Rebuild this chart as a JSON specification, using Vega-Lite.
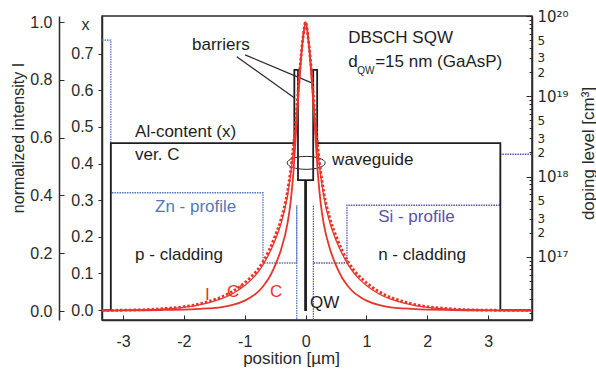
{
  "$schema": "https://vega.github.io/schema/vega-lite/v6.json",
  "width": 430,
  "height": 304,
  "autosize": {"type": "none"},
  "padding": {"left": 102, "top": 16, "right": 64, "bottom": 49},
  "background": "white",
  "config": {
    "font": "Liberation Sans",
    "view": {"stroke": "#2a2a2a", "strokeWidth": 1.5},
    "axis": {"grid": false, "labelFontSize": 16, "titleFontSize": 17, "labelColor": "#2a2a2a", "titleColor": "#2a2a2a", "titleFontWeight": "normal", "domainColor": "#2a2a2a", "tickColor": "#2a2a2a", "domainWidth": 1.5, "labelFont": "Liberation Sans", "titleFont": "Liberation Sans", "labelFlush": false, "labelOverlap": false},
    "text": {"font": "Liberation Sans", "fontSize": 17, "align": "left", "baseline": "alphabetic", "color": "#1e1e1e"}
  },
  "datasets": {
    "al": [
      {"i": 0, "x": -3.345, "al": 0}, {"i": 1, "x": -3.2, "al": 0}, {"i": 2, "x": -3.2, "al": 0.456},
      {"i": 3, "x": -0.185, "al": 0.456}, {"i": 4, "x": -0.185, "al": 0.656}, {"i": 5, "x": -0.125, "al": 0.656},
      {"i": 6, "x": -0.125, "al": 0.355}, {"i": 7, "x": -0.008, "al": 0.355}, {"i": 8, "x": -0.008, "al": 0},
      {"i": 9, "x": 0.008, "al": 0}, {"i": 10, "x": 0.008, "al": 0.355}, {"i": 11, "x": 0.125, "al": 0.355},
      {"i": 12, "x": 0.125, "al": 0.656}, {"i": 13, "x": 0.19, "al": 0.656}, {"i": 14, "x": 0.19, "al": 0.456},
      {"i": 15, "x": 3.2, "al": 0.456}, {"i": 16, "x": 3.2, "al": 0}, {"i": 17, "x": 3.72, "al": 0}
    ],
    "zn": [
      {"i": 0, "x": -3.345, "d": 5e19}, {"i": 1, "x": -3.2, "d": 5e19}, {"i": 2, "x": -3.2, "d": 6.3e17},
      {"i": 3, "x": -0.70, "d": 6.3e17}, {"i": 4, "x": -0.70, "d": 8.4e16}, {"i": 5, "x": -0.145, "d": 8.4e16},
      {"i": 6, "x": -0.145, "d": 4.4e17}, {"i": 7, "x": -0.145, "d": 1e16}
    ],
    "si": [
      {"i": 0, "x": 0.128, "d": 1e16}, {"i": 1, "x": 0.128, "d": 4.4e17}, {"i": 2, "x": 0.128, "d": 8.4e16},
      {"i": 3, "x": 0.68, "d": 8.4e16}, {"i": 4, "x": 0.68, "d": 4.4e17}, {"i": 5, "x": 3.2, "d": 4.4e17},
      {"i": 6, "x": 3.2, "d": 1.9e18}, {"i": 7, "x": 3.72, "d": 1.9e18}
    ],
    "C": [
      {"x": -3.345, "v": 0.0015}, {"x": -3.0, "v": 0.002}, {"x": -2.6, "v": 0.0028}, {"x": -2.3, "v": 0.0037},
      {"x": -2.0, "v": 0.005}, {"x": -1.8, "v": 0.0065}, {"x": -1.6, "v": 0.009}, {"x": -1.4, "v": 0.013},
      {"x": -1.2, "v": 0.021}, {"x": -1.0, "v": 0.036}, {"x": -0.9, "v": 0.048}, {"x": -0.8, "v": 0.063},
      {"x": -0.7, "v": 0.085}, {"x": -0.6, "v": 0.115}, {"x": -0.5, "v": 0.158}, {"x": -0.4, "v": 0.215},
      {"x": -0.3, "v": 0.30}, {"x": -0.25, "v": 0.37}, {"x": -0.2, "v": 0.48}, {"x": -0.16, "v": 0.61},
      {"x": -0.12, "v": 0.74}, {"x": -0.08, "v": 0.86}, {"x": -0.04, "v": 0.95}, {"x": 0, "v": 1.0},
      {"x": 0.04, "v": 0.95}, {"x": 0.08, "v": 0.86}, {"x": 0.12, "v": 0.74}, {"x": 0.16, "v": 0.61},
      {"x": 0.2, "v": 0.48}, {"x": 0.25, "v": 0.37}, {"x": 0.3, "v": 0.30}, {"x": 0.4, "v": 0.215},
      {"x": 0.5, "v": 0.158}, {"x": 0.6, "v": 0.115}, {"x": 0.7, "v": 0.085}, {"x": 0.8, "v": 0.063},
      {"x": 0.9, "v": 0.048}, {"x": 1.0, "v": 0.036}, {"x": 1.2, "v": 0.021}, {"x": 1.4, "v": 0.013},
      {"x": 1.6, "v": 0.009}, {"x": 1.8, "v": 0.0065}, {"x": 2.0, "v": 0.005}, {"x": 2.3, "v": 0.0037},
      {"x": 2.6, "v": 0.0028}, {"x": 3.0, "v": 0.002}, {"x": 3.72, "v": 0.0015}
    ],
    "Cp": [
      {"x": -3.345, "v": 0.002}, {"x": -3.0, "v": 0.003}, {"x": -2.6, "v": 0.005}, {"x": -2.3, "v": 0.009},
      {"x": -2.0, "v": 0.015}, {"x": -1.8, "v": 0.022}, {"x": -1.6, "v": 0.033}, {"x": -1.4, "v": 0.047},
      {"x": -1.2, "v": 0.068}, {"x": -1.0, "v": 0.098}, {"x": -0.9, "v": 0.117}, {"x": -0.8, "v": 0.14},
      {"x": -0.7, "v": 0.17}, {"x": -0.6, "v": 0.21}, {"x": -0.5, "v": 0.26}, {"x": -0.4, "v": 0.32},
      {"x": -0.3, "v": 0.41}, {"x": -0.25, "v": 0.48}, {"x": -0.2, "v": 0.57}, {"x": -0.16, "v": 0.66},
      {"x": -0.12, "v": 0.77}, {"x": -0.08, "v": 0.87}, {"x": -0.04, "v": 0.95}, {"x": 0, "v": 1.0},
      {"x": 0.04, "v": 0.95}, {"x": 0.08, "v": 0.87}, {"x": 0.12, "v": 0.77}, {"x": 0.16, "v": 0.66},
      {"x": 0.2, "v": 0.57}, {"x": 0.25, "v": 0.48}, {"x": 0.3, "v": 0.41}, {"x": 0.4, "v": 0.32},
      {"x": 0.5, "v": 0.26}, {"x": 0.6, "v": 0.21}, {"x": 0.7, "v": 0.17}, {"x": 0.8, "v": 0.14},
      {"x": 0.9, "v": 0.117}, {"x": 1.0, "v": 0.098}, {"x": 1.2, "v": 0.068}, {"x": 1.4, "v": 0.047},
      {"x": 1.6, "v": 0.033}, {"x": 1.8, "v": 0.022}, {"x": 2.0, "v": 0.015}, {"x": 2.3, "v": 0.009},
      {"x": 2.6, "v": 0.005}, {"x": 3.0, "v": 0.003}, {"x": 3.72, "v": 0.002}
    ],
    "I": [
      {"x": -3.345, "v": 0.0015}, {"x": -3.0, "v": 0.0025}, {"x": -2.6, "v": 0.0045}, {"x": -2.3, "v": 0.0075},
      {"x": -2.0, "v": 0.013}, {"x": -1.8, "v": 0.019}, {"x": -1.6, "v": 0.028}, {"x": -1.4, "v": 0.041},
      {"x": -1.2, "v": 0.06}, {"x": -1.0, "v": 0.088}, {"x": -0.9, "v": 0.107}, {"x": -0.8, "v": 0.13},
      {"x": -0.7, "v": 0.16}, {"x": -0.6, "v": 0.198}, {"x": -0.5, "v": 0.245}, {"x": -0.4, "v": 0.305},
      {"x": -0.3, "v": 0.395}, {"x": -0.25, "v": 0.465}, {"x": -0.2, "v": 0.555}, {"x": -0.16, "v": 0.65},
      {"x": -0.12, "v": 0.76}, {"x": -0.08, "v": 0.865}, {"x": -0.04, "v": 0.95}, {"x": 0, "v": 1.0},
      {"x": 0.04, "v": 0.95}, {"x": 0.08, "v": 0.865}, {"x": 0.12, "v": 0.76}, {"x": 0.16, "v": 0.65},
      {"x": 0.2, "v": 0.555}, {"x": 0.25, "v": 0.465}, {"x": 0.3, "v": 0.395}, {"x": 0.4, "v": 0.305},
      {"x": 0.5, "v": 0.245}, {"x": 0.6, "v": 0.198}, {"x": 0.7, "v": 0.16}, {"x": 0.8, "v": 0.13},
      {"x": 0.9, "v": 0.107}, {"x": 1.0, "v": 0.088}, {"x": 1.2, "v": 0.06}, {"x": 1.4, "v": 0.041},
      {"x": 1.6, "v": 0.028}, {"x": 1.8, "v": 0.019}, {"x": 2.0, "v": 0.013}, {"x": 2.3, "v": 0.0075},
      {"x": 2.6, "v": 0.0045}, {"x": 3.0, "v": 0.0025}, {"x": 3.72, "v": 0.0015}
    ]
  },
  "resolve": {"scale": {"y": "independent"}},
  "layer": [
    {
      "layer": [
        {
          "data": {"name": "zn"},
          "mark": {"type": "line", "clip": true, "color": "#4f72c2", "strokeWidth": 1.3, "strokeDash": [1.5, 1]},
          "encoding": {
            "x": {"field": "x", "type": "quantitative", "scale": {"domain": [-3.345, 3.72], "nice": false, "zero": false},
              "axis": {"values": [-3, -2.5, -2, -1.5, -1, -0.5, 0, 0.5, 1, 1.5, 2, 2.5, 3, 3.5],
                "labelExpr": "datum.value % 1 == 0 ? (datum.value < 0 ? '-' + abs(datum.value) : '' + datum.value) : ''",
                "tickSize": {"condition": {"test": "datum.value % 1 == 0", "value": -5}, "value": -3},
                "labelPadding": 18, "title": "position [µm]", "titleX": 189, "titleY": 43, "titleBaseline": "alphabetic"}},
            "y": {"field": "d", "type": "quantitative", "scale": {"type": "log", "domain": [1.64e16, 1e20], "nice": false},
              "axis": {"orient": "right",
                "values": [2e16, 3e16, 4e16, 5e16, 6e16, 7e16, 8e16, 9e16, 1e17, 2e17, 3e17, 4e17, 5e17, 6e17, 7e17, 8e17, 9e17, 1e18, 2e18, 3e18, 4e18, 5e18, 6e18, 7e18, 8e18, 9e18, 1e19, 2e19, 3e19, 4e19, 5e19, 6e19, 7e19, 8e19, 9e19, 1e20],
                "labelExpr": "abs(log(datum.value)/LN10 - round(log(datum.value)/LN10)) < 0.001 ? (round(log(datum.value)/LN10) == 20 ? '10²⁰' : round(log(datum.value)/LN10) == 19 ? '10¹⁹' : round(log(datum.value)/LN10) == 18 ? '10¹⁸' : round(log(datum.value)/LN10) == 17 ? '10¹⁷' : '') : ((datum.value > 1e17 && indexof([2, 3, 5], round(datum.value / pow(10, floor(log(datum.value)/LN10 + 0.001)))) >= 0) ? '' + round(datum.value / pow(10, floor(log(datum.value)/LN10 + 0.001))) : '')",
                "tickSize": {"condition": {"test": "abs(log(datum.value)/LN10 - round(log(datum.value)/LN10)) < 0.001", "value": -6}, "value": -3},
                "labelPadding": {"condition": {"test": "abs(log(datum.value)/LN10 - round(log(datum.value)/LN10)) < 0.001", "value": 11}, "value": 8},
                "labelFontSize": {"condition": {"test": "abs(log(datum.value)/LN10 - round(log(datum.value)/LN10)) < 0.001", "value": 15}, "value": 12},
                "labelFont": "DejaVu Sans",
                "labelBaseline": "middle",
                "title": "doping level [cm³]", "titleAngle": -90, "titleX": 56, "titleY": 137, "titleBaseline": "middle", "titleAlign": "center"}},
            "order": {"field": "i", "type": "quantitative"}
          }
        },
        {
          "data": {"name": "si"},
          "mark": {"type": "line", "clip": true, "color": "#5a50b0", "strokeWidth": 1.3, "strokeDash": [1.5, 1]},
          "encoding": {
            "x": {"field": "x", "type": "quantitative"},
            "y": {"field": "d", "type": "quantitative", "scale": {"type": "log"}},
            "order": {"field": "i", "type": "quantitative"}
          }
        }
      ]
    },
    {
      "layer": [
        {
          "data": {"name": "al"},
          "mark": {"type": "line", "color": "#1e1e1e", "strokeWidth": 1.8, "clip": true},
          "encoding": {
            "x": {"field": "x", "type": "quantitative"},
            "y": {"field": "al", "type": "quantitative", "scale": {"domain": [-0.027, 0.803], "nice": false, "zero": false},
              "axis": {"orient": "left",
                "values": [0, 0.05, 0.1, 0.15, 0.2, 0.25, 0.3, 0.35, 0.4, 0.45, 0.5, 0.55, 0.6, 0.65, 0.7, 0.75],
                "labelExpr": "round(datum.value*20) % 2 == 0 ? format(datum.value, '.1f') : ''",
                "tickSize": 4, "labelPadding": 5, "labelBaseline": "middle",
                "title": "x", "titleAngle": 0, "titleX": -17, "titleY": 8, "titleBaseline": "middle", "titleAlign": "center", "titleFontSize": 16}},
            "order": {"field": "i", "type": "quantitative"}
          }
        },
        {
          "data": {"values": [
            {"x": -1.131, "al": 0.692, "x2": -0.17, "al2": 0.578},
            {"x": -0.995, "al": 0.697, "x2": 0.12, "al2": 0.619}
          ]},
          "mark": {"type": "rule", "color": "#2a2a2a", "strokeWidth": 1.2},
          "encoding": {
            "x": {"field": "x", "type": "quantitative"},
            "y": {"field": "al", "type": "quantitative"},
            "x2": {"field": "x2"},
            "y2": {"field": "al2"}
          }
        },
        {
          "data": {"values": [{"x": 0.01, "al": 0.402}]},
          "mark": {"type": "point", "shape": "M-1,0A1,0.34,0,1,0,1,0A1,0.34,0,1,0,-1,0Z", "size": 1444, "filled": false, "stroke": "#2a2a2a", "strokeWidth": 1, "opacity": 1},
          "encoding": {
            "x": {"field": "x", "type": "quantitative"},
            "y": {"field": "al", "type": "quantitative"}
          }
        },
        {
          "data": {"values": [
            {"x": -1.866, "al": 0.710, "t": "barriers"},
            {"x": 0.699, "al": 0.7295, "t": "DBSCH  SQW"},
            {"x": 0.699, "al": 0.664, "t": "d"},
            {"x": 1.143, "al": 0.664, "t": "=15 nm (GaAsP)"},
            {"x": -2.801, "al": 0.4727, "t": "Al-content (x)"},
            {"x": -2.801, "al": 0.4098, "t": "ver. C"},
            {"x": 0.436, "al": 0.396, "t": "waveguide"},
            {"x": -2.801, "al": 0.1366, "t": "p - cladding"},
            {"x": 1.192, "al": 0.1366, "t": "n - cladding"},
            {"x": 0.074, "al": 0.006, "t": "QW"}
          ]},
          "mark": {"type": "text"},
          "encoding": {
            "x": {"field": "x", "type": "quantitative"},
            "y": {"field": "al", "type": "quantitative"},
            "text": {"field": "t"}
          }
        },
        {
          "data": {"values": [{"x": 0.847, "al": 0.645, "t": "QW"}]},
          "mark": {"type": "text", "fontSize": 10},
          "encoding": {
            "x": {"field": "x", "type": "quantitative"},
            "y": {"field": "al", "type": "quantitative"},
            "text": {"field": "t"}
          }
        },
        {
          "data": {"values": [{"x": -2.474, "al": 0.2678, "t": "Zn - profile"}]},
          "mark": {"type": "text", "color": "#5577c0"},
          "encoding": {
            "x": {"field": "x", "type": "quantitative"},
            "y": {"field": "al", "type": "quantitative"},
            "text": {"field": "t"}
          }
        },
        {
          "data": {"values": [{"x": 1.192, "al": 0.2404, "t": "Si - profile"}]},
          "mark": {"type": "text", "color": "#5a50b0"},
          "encoding": {
            "x": {"field": "x", "type": "quantitative"},
            "y": {"field": "al", "type": "quantitative"},
            "text": {"field": "t"}
          }
        }
      ]
    },
    {
      "layer": [
        {
          "data": {"name": "I"},
          "mark": {"type": "line", "color": "#e8352a", "strokeWidth": 1.3, "interpolate": "monotone", "clip": true},
          "encoding": {
            "x": {"field": "x", "type": "quantitative"},
            "y": {"field": "v", "type": "quantitative", "scale": {"domain": [-0.031, 1.021], "nice": false, "zero": false},
              "axis": {"orient": "left", "offset": 43,
                "values": [0, 0.1, 0.2, 0.3, 0.4, 0.5, 0.6, 0.7, 0.8, 0.9, 1.0],
                "labelExpr": "round(datum.value*10) % 2 == 0 ? format(datum.value, '.1f') : ''",
                "tickSize": {"condition": {"test": "round(datum.value*10) % 2 == 0", "value": -5}, "value": -3},
                "labelPadding": 12, "labelBaseline": "middle",
                "title": "normalized intensity I", "titleFontSize": 16, "titleAngle": -90, "titleX": -41, "titleY": 121.5, "titleBaseline": "middle", "titleAlign": "center"}}
          }
        },
        {
          "data": {"name": "Cp"},
          "mark": {"type": "line", "color": "#e8352a", "strokeWidth": 2.8, "strokeDash": [2.5, 2], "interpolate": "monotone", "clip": true},
          "encoding": {
            "x": {"field": "x", "type": "quantitative"},
            "y": {"field": "v", "type": "quantitative"}
          }
        },
        {
          "data": {"name": "C"},
          "mark": {"type": "line", "color": "#e8352a", "strokeWidth": 1.8, "interpolate": "monotone", "clip": true},
          "encoding": {
            "x": {"field": "x", "type": "quantitative"},
            "y": {"field": "v", "type": "quantitative"}
          }
        },
        {
          "data": {"values": [
            {"x": -1.652, "v": 0.038, "t": "I"},
            {"x": -1.29, "v": 0.048, "t": "C'"},
            {"x": -0.584, "v": 0.048, "t": "C"}
          ]},
          "mark": {"type": "text", "color": "#e8352a"},
          "encoding": {
            "x": {"field": "x", "type": "quantitative"},
            "y": {"field": "v", "type": "quantitative"},
            "text": {"field": "t"}
          }
        }
      ]
    }
  ]
}
